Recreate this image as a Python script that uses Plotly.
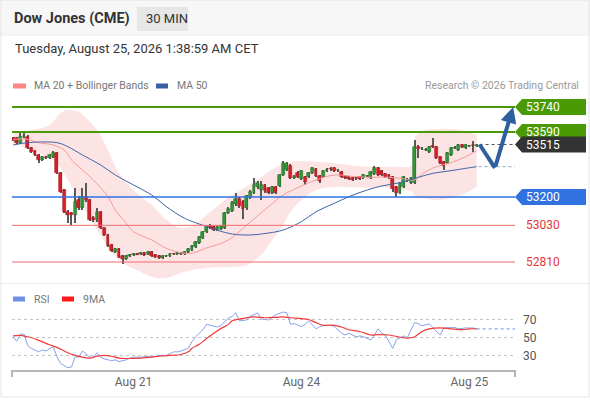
import pandas as pd
import plotly.graph_objects as go

# 30 min candles, Dow Jones (CME) futures, times in CET
times = pd.date_range("2026-08-20 06:30", "2026-08-25 01:00", freq="30min")
times = times[(times.hour != 23) & (times.dayofweek < 5)]

opens = [53554, 53554, 53524, 53560, 53560, 53494, 53476, 53452, 53422, 53440,
         53434, 53440, 53464, 53344, 53242, 53110, 53104, 53092, 53182, 53134,
         53200, 53182, 53074, 53062, 53110, 53014, 52972, 52912, 52870, 52888,
         52846, 52828, 52846, 52852, 52858, 52858, 52864, 52858, 52870, 52852,
         52846, 52834, 52846, 52846, 52858, 52856, 52864, 52858, 52870, 52882,
         52900, 52924, 52954, 52990, 53026, 53020, 53002, 53008, 53014, 53104,
         53116, 53158, 53188, 53170, 53134, 53200, 53224, 53260, 53242, 53272,
         53254, 53224, 53260, 53266, 53332, 53362, 53386, 53314, 53344, 53308,
         53320, 53320, 53344, 53368, 53326, 53320, 53356, 53368, 53374, 53362,
         53350, 53326, 53320, 53314, 53314, 53320, 53314, 53326, 53314, 53338,
         53374, 53356, 53338, 53332, 53320, 53260, 53224, 53260, 53302, 53284,
         53284, 53500, 53494, 53482, 53470, 53506, 53500, 53440, 53410, 53404,
         53452, 53494, 53482, 53512, 53494, 53506, 53512, 53506]
highs = [53560, 53560, 53584, 53584, 53572, 53500, 53482, 53458, 53446, 53446,
         53458, 53476, 53470, 53350, 53248, 53122, 53110, 53254, 53206, 53254,
         53284, 53188, 53086, 53134, 53116, 53020, 52978, 52918, 52894, 52894,
         52852, 52852, 52858, 52864, 52864, 52870, 52870, 52876, 52876, 52858,
         52852, 52852, 52852, 52864, 52864, 52870, 52870, 52876, 52894, 52912,
         52936, 52966, 52996, 53026, 53038, 53026, 53026, 53032, 53110, 53140,
         53176, 53224, 53200, 53182, 53212, 53242, 53314, 53296, 53296, 53278,
         53260, 53266, 53266, 53338, 53416, 53410, 53398, 53332, 53356, 53362,
         53326, 53350, 53380, 53374, 53332, 53362, 53374, 53380, 53380, 53368,
         53356, 53332, 53326, 53320, 53320, 53326, 53338, 53332, 53356, 53386,
         53380, 53362, 53344, 53338, 53326, 53266, 53290, 53326, 53314, 53320,
         53542, 53512, 53500, 53494, 53506, 53554, 53506, 53446, 53416, 53470,
         53500, 53506, 53518, 53518, 53518, 53512, 53536, 53518]
lows = [53536, 53518, 53518, 53554, 53488, 53464, 53446, 53404, 53416, 53428,
        53428, 53434, 53338, 53224, 53104, 53044, 53032, 53044, 53122, 53122,
        53170, 53056, 53050, 53050, 53008, 52966, 52900, 52870, 52864, 52834,
        52798, 52822, 52840, 52846, 52852, 52852, 52846, 52852, 52840, 52834,
        52828, 52828, 52840, 52840, 52852, 52852, 52852, 52852, 52864, 52876,
        52894, 52918, 52948, 52984, 53008, 52996, 52996, 53002, 53008, 53098,
        53110, 53146, 53134, 53068, 53122, 53188, 53218, 53248, 53182, 53224,
        53218, 53218, 53218, 53260, 53326, 53356, 53308, 53308, 53314, 53302,
        53272, 53314, 53338, 53320, 53284, 53314, 53350, 53356, 53350, 53350,
        53314, 53308, 53302, 53296, 53302, 53302, 53308, 53320, 53308, 53332,
        53326, 53326, 53314, 53308, 53230, 53200, 53218, 53254, 53290, 53278,
        53278, 53434, 53482, 53476, 53464, 53494, 53428, 53398, 53362, 53398,
        53446, 53488, 53476, 53494, 53488, 53500, 53470, 53500]
closes = [53542, 53524, 53560, 53566, 53494, 53470, 53452, 53422, 53440, 53434,
          53452, 53464, 53344, 53230, 53110, 53092, 53092, 53170, 53134, 53200,
          53182, 53062, 53062, 53110, 53014, 52972, 52906, 52876, 52888, 52840,
          52828, 52846, 52852, 52858, 52855, 52864, 52852, 52870, 52846, 52840,
          52834, 52846, 52848, 52858, 52856, 52864, 52858, 52870, 52888, 52906,
          52930, 52960, 52990, 53020, 53014, 53002, 53020, 53026, 53104, 53128,
          53164, 53188, 53146, 53128, 53206, 53230, 53272, 53284, 53272, 53236,
          53224, 53260, 53224, 53332, 53404, 53398, 53314, 53320, 53320, 53356,
          53290, 53344, 53374, 53326, 53296, 53356, 53362, 53366, 53356, 53364,
          53320, 53314, 53308, 53302, 53312, 53308, 53332, 53328, 53350, 53374,
          53332, 53332, 53320, 53314, 53248, 53224, 53284, 53320, 53304, 53314,
          53500, 53488, 53496, 53484, 53500, 53500, 53434, 53404, 53386, 53464,
          53494, 53496, 53512, 53500, 53512, 53508, 53506, 53515]

# indicators, read at sampled candle indices
band_idx = [0, 5, 10, 13, 15, 18, 20, 23, 26, 28, 31, 35, 38, 42, 46, 49, 53, 57, 60,
            64, 68, 70, 74, 76, 79, 83, 88, 92, 97, 101, 106, 109, 110, 112, 116, 120, 124, 127]
band_upper = [53584, 53602, 53632, 53704, 53722, 53712, 53674, 53602, 53482, 53382,
              53284, 53202, 53152, 53062, 53014, 53026, 53092, 53164, 53212, 53262,
              53322, 53350, 53402, 53410, 53416, 53412, 53402, 53392, 53382, 53382,
              53382, 53386, 53554, 53596, 53608, 53608, 53596, 53572]
band_lower = [53524, 53482, 53434, 53374, 53302, 53194, 53110, 53002, 52900, 52840,
              52792, 52750, 52720, 52714, 52744, 52762, 52774, 52780, 52780, 52792,
              52852, 52912, 53032, 53110, 53182, 53242, 53260, 53260, 53254, 53260,
              53242, 53236, 53206, 53194, 53182, 53194, 53224, 53260]
ma20_idx = [0, 4, 7, 11, 14, 16, 19, 22, 26, 28, 31, 33, 38, 42, 48, 53, 59, 64, 70,
            74, 79, 83, 88, 92, 97, 101, 106, 110, 112, 116, 120, 124, 127]
ma20 = [53546, 53546, 53526, 53512, 53482, 53422, 53362, 53302, 53202, 53122, 53042,
        52992, 52942, 52892, 52861, 52894, 52942, 53032, 53142, 53212, 53266, 53302,
        53332, 53326, 53318, 53320, 53312, 53302, 53338, 53382, 53406, 53442, 53478]
ma50_idx = [0, 4, 12, 15, 19, 24, 28, 33, 38, 42, 47, 51, 56, 60, 65, 70, 74, 79, 83,
            88, 92, 97, 101, 106, 111, 115, 120, 124, 127]
ma50 = [53512, 53526, 53526, 53502, 53452, 53392, 53332, 53272, 53212, 53142, 53072,
        53038, 53000, 52978, 52972, 52984, 53002, 53052, 53112, 53162, 53202, 53242,
        53266, 53286, 53318, 53342, 53358, 53372, 53382]

rsi_idx = [0, 1, 2, 3, 4, 5, 7, 8, 9, 10, 11, 12, 13, 15, 16, 17, 18, 19, 20, 21, 22,
           23, 24, 25, 27, 28, 29, 31, 32, 33, 35, 37, 38, 40, 42, 44, 45, 46, 48, 49,
           50, 52, 53, 55, 56, 57, 59, 60, 61, 62, 64, 65, 66, 67, 68, 70, 71, 72, 74,
           75, 76, 77, 79, 80, 81, 83, 84, 85, 87, 88, 90, 91, 92, 94, 95, 96, 98, 99,
           100, 101, 102, 103, 104, 105, 107, 108, 110, 111, 112, 114, 116, 117, 118,
           120, 121, 122, 124, 126, 127]
rsi = [51, 46, 54, 54, 41, 38, 34, 36, 35, 38, 40, 28.5, 21, 16, 17, 28.5, 28, 35, 31,
       28, 28, 33, 28, 26, 24, 25, 23, 25, 27, 28, 28, 29, 28, 30, 30, 34, 34, 35, 38,
       45.5, 51, 59, 65, 63.5, 62, 64, 72, 74, 78, 69, 70, 74, 76, 78, 71, 70, 73, 76,
       79, 78, 65, 66, 62.5, 65, 69, 60, 62.5, 63.5, 64, 62.5, 55, 53, 55, 51, 52, 51,
       47.5, 53, 60, 55, 53, 46, 38, 47.5, 52, 50, 67, 66, 63.5, 65.5, 57, 53, 61, 61,
       61.5, 60, 61, 61, 60]
ma9_idx = [0, 2, 4, 7, 10, 12, 15, 17, 19, 21, 23, 25, 27, 29, 32, 35, 38, 40, 43, 46,
           48, 49, 51, 53, 55, 57, 59, 60, 62, 66, 69, 72, 74, 76, 79, 81, 83, 85, 88,
           90, 92, 95, 98, 100, 103, 106, 108, 110, 112, 114, 117, 120, 123, 125, 127]
ma9 = [52, 52.5, 51, 47, 42, 39, 33, 30, 28, 27, 29, 30, 29, 27, 26.5, 27, 28, 29, 30,
       31, 34, 38, 42.5, 49, 55, 60.5, 65, 69, 71, 73.5, 72.5, 73, 73.5, 72.5, 71.5,
       70.5, 67, 64, 64, 62, 59, 57, 53, 53.5, 53, 50.5, 49.5, 51, 57, 60, 61, 60, 59,
       60, 60]

# scenario drawn after the last candle
proj_idx = [127.8, 132]
proj_val = [53515, 53375]
target_idx = 137
target_val = 53740

levels = [53740, 53590, 53515, 53200, 53030, 52810]
level_colors = ["#4a9a05", "#4a9a05", "#333333", "#2f72e0", "#f06a6a", "#f06a6a"]
tagged = [True, True, True, True, False, False]

tick_days = ["2026-08-21", "2026-08-24", "2026-08-25"]
tick_text = ["Aug 21", "Aug 24", "Aug 25"]

n = len(closes)
idx = list(range(n))
tick_vals = [times.get_loc(pd.Timestamp(d)) for d in tick_days]

GREEN, RED = "#34963a", "#d8202a"
up = [c >= o for o, c in zip(opens, closes)]
body_base = [min(o, c) for o, c in zip(opens, closes)]
body_h = [max(abs(c - o), 3) for o, c in zip(opens, closes)]
body_col = [GREEN if u else RED for u in up]
body_line = ["#24702a" if u else "#a8161d" for u in up]

W, H = 590, 400
x0p, x1p = 12 / W, 515 / W
xr = [-0.3, 137.5]
yr = [52690, 53794]
FONT = "Roboto, Arial, sans-serif"

fig = go.Figure()

# bollinger band on the base price axis (drawn under the candles)
fig.add_trace(go.Scatter(x=band_idx, y=band_upper, mode="lines",
                         line=dict(width=0, shape="spline"), hoverinfo="skip"))
fig.add_trace(go.Scatter(x=band_idx, y=band_lower, mode="lines", fill="tonexty",
                         fillcolor="rgba(250,165,165,0.30)",
                         line=dict(width=0, shape="spline"), hoverinfo="skip"))

# candles on an overlaid axis
fig.add_trace(go.Bar(x=idx, y=[h - l for h, l in zip(highs, lows)], base=lows,
                     width=0.3, marker=dict(color="#5a5a5a", line=dict(width=0)),
                     yaxis="y3"))
fig.add_trace(go.Bar(x=idx, y=body_h, base=body_base, width=0.78,
                     marker=dict(color=body_col, line=dict(color=body_line, width=0.6)),
                     yaxis="y3"))

fig.add_trace(go.Scatter(x=ma20_idx, y=ma20, mode="lines", yaxis="y3",
                         line=dict(color="#f59a9a", width=1, shape="spline")))
fig.add_trace(go.Scatter(x=ma50_idx, y=ma50, mode="lines", yaxis="y3",
                         line=dict(color="#3f64a8", width=1, shape="spline")))
fig.add_trace(go.Scatter(x=[idx[-1] + 0.8, xr[1]], y=[closes[-1]] * 2, mode="lines",
                         yaxis="y3", line=dict(color="#555555", width=1, dash="dot")))
fig.add_trace(go.Scatter(x=[ma50_idx[-1] + 0.5, xr[1]], y=[ma50[-1]] * 2, mode="lines",
                         yaxis="y3", line=dict(color="#8ea4cc", width=1, dash="dot")))
fig.add_trace(go.Scatter(x=proj_idx, y=proj_val, mode="lines", yaxis="y3",
                         line=dict(color="#2f5f9f", width=4)))

# RSI panel
fig.add_trace(go.Scatter(x=rsi_idx, y=rsi, mode="lines", xaxis="x2", yaxis="y2",
                         line=dict(color="#86a2ec", width=1)))
fig.add_trace(go.Scatter(x=ma9_idx, y=ma9, mode="lines", xaxis="x2", yaxis="y2",
                         line=dict(color="#f23a3a", width=1.2, shape="spline")))
fig.add_trace(go.Scatter(x=[rsi_idx[-1], xr[1]], y=[rsi[-1]] * 2, mode="lines",
                         xaxis="x2", yaxis="y2",
                         line=dict(color="#86a2ec", width=1.2, dash="dot")))

shapes = []
annotations = []


def py(y):
    return 1 - y / H


# header strip and frame
shapes.append(dict(type="rect", xref="paper", yref="paper", x0=0, x1=1, y0=py(35), y1=1,
                   fillcolor="#f7f7f7", line=dict(width=0), layer="below"))
shapes.append(dict(type="line", xref="paper", yref="paper", x0=0, x1=1, y0=py(35), y1=py(35),
                   line=dict(color="#ececec", width=1)))
shapes.append(dict(type="rect", xref="paper", yref="paper", x0=137 / W, x1=188 / W,
                   y0=py(31), y1=py(7), fillcolor="#e6e6e6", line=dict(width=0)))
shapes.append(dict(type="line", xref="paper", yref="paper", x0=0, x1=1, y0=py(283.5),
                   y1=py(283.5), line=dict(color="#ececec", width=1)))
shapes.append(dict(type="rect", xref="paper", yref="paper", x0=1 / W, x1=589 / W,
                   y0=py(397), y1=1, line=dict(color="#e4e4e4", width=1)))

annotations += [
    dict(text="<b>Dow Jones (CME)</b>", x=12 / W, y=py(19), font=dict(size=14.5, color="#333")),
    dict(text="30 MIN", x=144 / W, y=py(19), font=dict(size=13, color="#333")),
    dict(text="Tuesday, August 25, 2026 1:38:59 AM CET", x=13 / W, y=py(48),
         font=dict(size=13, color="#333")),
    dict(text="MA 20 + Bollinger Bands", x=32 / W, y=py(86), font=dict(size=10.5, color="#777")),
    dict(text="MA 50", x=175 / W, y=py(86), font=dict(size=10.5, color="#777")),
    dict(text="Research © 2026 Trading Central", x=581 / W, y=py(86), xanchor="right",
         font=dict(size=10.5, color="#999")),
    dict(text="RSI", x=32 / W, y=py(299), font=dict(size=10.5, color="#777")),
    dict(text="9MA", x=81 / W, y=py(299), font=dict(size=10.5, color="#777")),
]
for xa, xb, yc, col in [(13, 26, 86, "#ff8585"), (156, 168, 86, "#3a5fa5"),
                        (13, 25, 299, "#6f8fe6"), (62, 74, 299, "#ff1a1a")]:
    shapes.append(dict(type="rect", xref="paper", yref="paper", x0=xa / W, x1=xb / W,
                       y0=py(yc + 2.5), y1=py(yc - 2.5), fillcolor=col, line=dict(width=0)))

# price levels and their tags
half = 8 * (yr[1] - yr[0]) / 184
for lv, col, tag in zip(levels, level_colors, tagged):
    if lv != closes[-1]:
        wdt = 2 if col == "#4a9a05" else (1.5 if tag else 1)
        shapes.append(dict(type="line", xref="x domain", yref="y", x0=0, x1=1, y0=lv, y1=lv,
                           line=dict(color=col, width=wdt)))
    if tag:
        a, b, c = 515 / W, 522 / W, 586 / W
        shapes.append(dict(type="path", xref="paper", yref="y", fillcolor=col,
                           line=dict(width=0),
                           path=f"M{a},{lv} L{b},{lv + half} L{c},{lv + half} "
                                f"L{c},{lv - half} L{b},{lv - half} Z"))
        annotations.append(dict(text=str(lv), x=524 / W, y=lv, yref="y",
                                font=dict(size=12, color="white")))
    else:
        annotations.append(dict(text=str(lv), x=524 / W, y=lv, yref="y",
                                font=dict(size=12, color="#e53935")))

# RSI axis end ticks
for xe in (12, 515):
    shapes.append(dict(type="line", xref="paper", yref="paper", x0=xe / W, x1=xe / W,
                       y0=py(377), y1=py(370), line=dict(color="#b5b5b5", width=2)))

for a in annotations:
    a.setdefault("xref", "paper")
    a.setdefault("yref", "paper")
    a.setdefault("xanchor", "left")
    a["yanchor"] = "middle"
    a["showarrow"] = False

annotations.append(dict(x=target_idx, y=target_val, ax=proj_idx[-1], ay=proj_val[-1],
                        xref="x", yref="y", axref="x", ayref="y", text="", showarrow=True,
                        arrowhead=2, arrowsize=0.8, arrowwidth=4, arrowcolor="#2f5f9f",
                        standoff=0))

fig.update_layout(
    width=W, height=H, autosize=False, margin=dict(l=0, r=0, t=0, b=0),
    paper_bgcolor="white", plot_bgcolor="rgba(0,0,0,0)",
    font=dict(family=FONT, color="#333"), showlegend=False, barmode="overlay",
    bargap=0, hovermode=False,
    xaxis=dict(domain=[x0p, x1p], range=xr, anchor="y", visible=False),
    yaxis=dict(domain=[py(282), py(98)], range=yr, visible=False),
    yaxis3=dict(overlaying="y", range=yr, visible=False),
    xaxis2=dict(domain=[x0p, x1p], range=xr, anchor="y2", matches="x",
                showline=True, linecolor="#b5b5b5", linewidth=2, showgrid=False,
                zeroline=False, ticks="", tickvals=tick_vals, ticktext=tick_text,
                tickfont=dict(size=12, color="#666")),
    yaxis2=dict(domain=[py(370), py(305)], range=[13.5, 86.9], anchor="x2", side="right",
                tickvals=[30, 50, 70], ticks="", showgrid=True, gridcolor="#c4c4c4",
                griddash="dot", gridwidth=1, zeroline=False, showline=False,
                ticklabelstandoff=7, tickfont=dict(size=12, color="#555")),
    shapes=shapes, annotations=annotations,
)

# the page's default body margin would push the 590x400 figure off the window
fig.write_html("out.html", config={"displayModeBar": False},
               post_script="document.body.style.margin='0';")
